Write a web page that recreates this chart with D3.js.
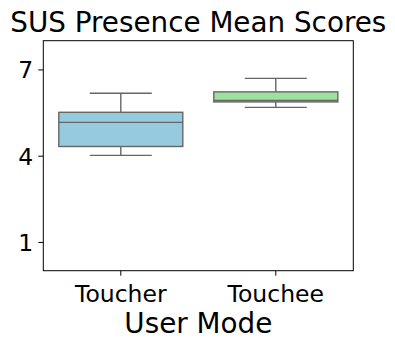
<!DOCTYPE html>
<html><head><meta charset="utf-8">
<script src="https://cdn.jsdelivr.net/npm/d3@7"></script>
<style>body{margin:0;background:#fff}svg{display:block}text{font-family:"DejaVu Sans",sans-serif;fill:#000}</style>
</head><body><svg id="c" width="395" height="348"></svg>
<script>
const categories = ["Toucher", "Touchee"];
const whiskerLow = [4.01, 5.68];
const q1 = [4.32, 5.87];
const median = [5.16, 5.92];
const q3 = [5.51, 6.22];
const whiskerHigh = [6.17, 6.69];
const colors = ["#96cadf", "#9ce29c"];
const yTicks = [1, 4, 7];

const svg = d3.select("#c");
const m = {l: 43.3, t: 40.7, r: 395 - 353.3, b: 348 - 270.7};
const W = 395 - m.l - m.r, H = 348 - m.t - m.b;
const g = svg.append("g").attr("transform", `translate(${m.l},${m.t})`);
const x = d3.scaleBand().domain(categories).range([0, W]).padding(0);
const y = d3.scaleLinear().domain([0, 8]).range([H, 0]);

const yAx = g.append("g").call(d3.axisLeft(y).tickValues(yTicks).tickSize(5).tickPadding(5).tickFormat(d3.format("d")));
yAx.select(".domain").remove();
yAx.selectAll("text").style("font-size", "23.5px").attr("dy", "0.36em");
yAx.selectAll("line").attr("stroke", "#000").attr("stroke-width", 1);

const xAx = g.append("g").attr("transform", `translate(0,${H})`).call(d3.axisBottom(x).tickSize(5).tickPadding(5));
xAx.select(".domain").remove();
xAx.selectAll("text").style("font-size", "23.5px").attr("dy", "0.9em");
xAx.selectAll("line").attr("stroke", "#000").attr("stroke-width", 1);

const line = "#666666";
categories.forEach((c, i) => {
  const cx = x(c) + x.bandwidth() / 2;
  const bw = x.bandwidth() * 0.8, cw = x.bandwidth() * 0.4;
  const bg = g.append("g");
  bg.append("line").attr("x1", cx).attr("x2", cx).attr("y1", y(whiskerLow[i])).attr("y2", y(q1[i])).attr("stroke", line).attr("stroke-width", 1.4);
  bg.append("line").attr("x1", cx).attr("x2", cx).attr("y1", y(q3[i])).attr("y2", y(whiskerHigh[i])).attr("stroke", line).attr("stroke-width", 1.4);
  bg.append("line").attr("x1", cx - cw / 2).attr("x2", cx + cw / 2).attr("y1", y(whiskerLow[i])).attr("y2", y(whiskerLow[i])).attr("stroke", line).attr("stroke-width", 1.4);
  bg.append("line").attr("x1", cx - cw / 2).attr("x2", cx + cw / 2).attr("y1", y(whiskerHigh[i])).attr("y2", y(whiskerHigh[i])).attr("stroke", line).attr("stroke-width", 1.4);
  bg.append("rect").attr("x", cx - bw / 2).attr("width", bw).attr("y", y(q3[i])).attr("height", y(q1[i]) - y(q3[i]))
    .attr("fill", colors[i]).attr("stroke", line).attr("stroke-width", 1.4);
  bg.append("line").attr("x1", cx - bw / 2).attr("x2", cx + bw / 2).attr("y1", y(median[i])).attr("y2", y(median[i])).attr("stroke", line).attr("stroke-width", 1.4);
});

g.append("rect").attr("width", W).attr("height", H).attr("fill", "none").attr("stroke", "#000").attr("stroke-width", 1);

svg.append("text").attr("x", m.l + W / 2).attr("y", 31.7).attr("text-anchor", "middle").style("font-size", "27.8px").text("SUS Presence Mean Scores");
svg.append("text").attr("x", m.l + W / 2).attr("y", 332.7).attr("text-anchor", "middle").style("font-size", "27.8px").text("User Mode");
</script></body></html>
